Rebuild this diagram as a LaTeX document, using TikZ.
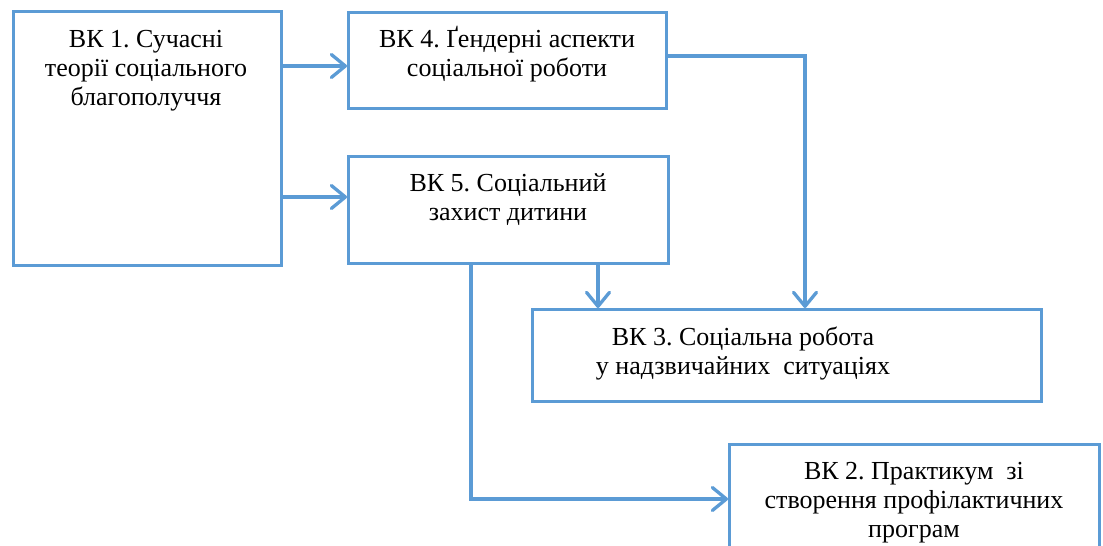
\documentclass[tikz,border=0pt]{standalone}
\usepackage{fontspec}
\setmainfont{Liberation Serif}
\usetikzlibrary{arrows.meta,calc}
\definecolor{bl}{HTML}{5B9BD5}
\frenchspacing
\begin{document}
\begin{tikzpicture}[x=1pt,y=-1pt,
  box/.style={draw=bl, line width=3.3pt, inner sep=0pt, anchor=north west, fill=white},
  txt/.style={font=\fontsize{26}{29}\selectfont, align=center, inner sep=0pt, anchor=base},
  arr/.style={draw=bl, line width=3.3pt, -{Straight Barb[length=14pt,width=23pt,round]}}]
\useasboundingbox (0,0) rectangle (1103,546);
\clip (0,0) rectangle (1103,546);
\fill[white] (0,0) rectangle (1103,546);
\node[box, minimum width=268pt, minimum height=254pt] (b1) at (12,10) {};
\node[box, minimum width=318pt, minimum height=96pt] (b4) at (347,11) {};
\node[box, minimum width=320pt, minimum height=107pt] (b5) at (347,155) {};
\node[box, minimum width=509pt, minimum height=92pt] (b3) at (531,308) {};
\node[box, minimum width=370pt, minimum height=150pt] (b2) at (728,443) {};
% anchor=base of a multi-line node is the baseline of its last line
\node[txt] (t1) at (146,105) {ВК 1. Сучасні\\теорії соціального\\благополуччя};
\node[txt] (t4) at (507,76) {ВК 4. Ґендерні аспекти\\соціальної роботи};
\node[txt] (t5) at (508,220) {ВК 5. Соціальний\\захист дитини};
\node[txt] (t3) at (743,374) {ВК 3. Соціальна робота\\у надзвичайних\ \ ситуаціях};
\node[txt] (t2) at (914,537) {ВК 2. Практикум\ \ зі\\створення профілактичних\\програм};
\draw[arr] (b1.east |- 0,66) -- (b4.west |- 0,66);
\draw[arr] (b1.east |- 0,197) -- (b5.west |- 0,197);
\draw[arr] (b4.east |- 0,56) -| (b3.north -| 805,0);
\draw[arr] (b5.south -| 598,0) -- (b3.north -| 598,0);
\draw[arr] (b5.south -| 471,0) |- (b2.west |- 0,499);
\end{tikzpicture}
\end{document}
